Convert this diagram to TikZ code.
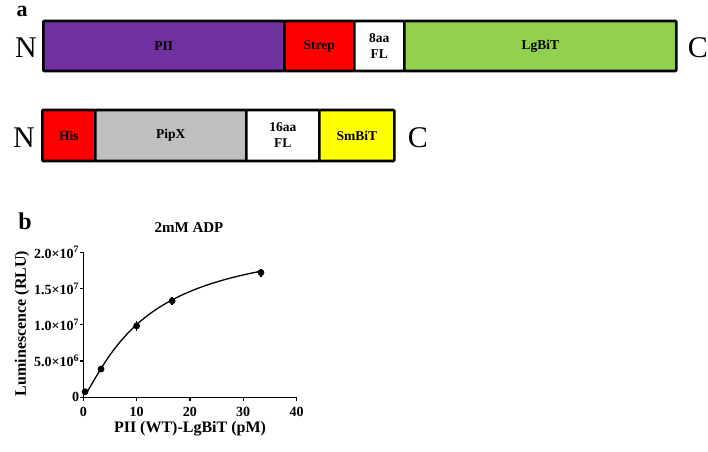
\documentclass[tikz,border=0pt]{standalone}
\usepackage{fontspec}
\setmainfont{Liberation Serif}
\usetikzlibrary{positioning}
\definecolor{piipurple}{RGB}{112,48,160}
\definecolor{tagred}{RGB}{255,0,0}
\definecolor{lgbitgreen}{RGB}{146,208,80}
\definecolor{pipxgray}{RGB}{191,191,191}
\definecolor{smbityellow}{RGB}{255,255,0}
\newcommand{\boxfont}{\fontsize{13.5}{16}\selectfont\bfseries}
\newcommand{\termfont}{\fontsize{30}{30}\selectfont}
\newcommand{\panelfont}{\fontsize{24}{24}\selectfont\bfseries}
\newcommand{\tickfont}{\fontsize{14}{14}\selectfont\bfseries}
\newcommand{\labelfont}{\fontsize{16}{16}\selectfont\bfseries}
\newcommand{\widthpii}{241pt}
\newcommand{\widthstrep}{70pt}
\newcommand{\widtheight}{50pt}
\newcommand{\widthlgbit}{272pt}
\newcommand{\widthhis}{53pt}
\newcommand{\widthpipx}{151pt}
\newcommand{\widthsixteen}{73pt}
\newcommand{\widthsmbit}{75pt}
\tikzset{
    seg/.style={anchor=west, draw, line width=2.6pt, rounded corners=1pt,
        inner sep=0pt, align=center, font=\boxfont},
    toprow/.style={seg, minimum height=50pt},
    botrow/.style={seg, minimum height=51pt},
    term/.style={inner sep=0pt, font=\termfont},
    panel/.style={inner sep=0pt, font=\panelfont},
    datapt/.style={fill=black},
    errbar/.style={line width=1.6pt}
}

\begin{document}
\begin{tikzpicture}[x=1pt, y=-1pt]
    \useasboundingbox (0,0) rectangle (708,451);

    % panel a: construct maps
    \node[panel, anchor=base, font=\fontsize{22}{22}\selectfont\bfseries] (labela) at (22,16) {a};
    \path (42,46)
        node[toprow, fill=piipurple, minimum width=\widthpii] (pii) {PII}
        to ++(0:\widthpii) node[toprow, fill=tagred, minimum width=\widthstrep] (strep) {Strep}
        to ++(0:\widthstrep) node[toprow, fill=white, minimum width=\widtheight] (fleight) {8aa\\FL}
        to ++(0:\widtheight) node[toprow, fill=lgbitgreen, minimum width=\widthlgbit] (lgbit) {LgBiT};
    \node[term, left=5pt of pii, yshift=-2pt] (ntop) {N};
    \node[term, right=10pt of lgbit, yshift=-2pt] (ctop) {C};

    \path (41,135.5)
        node[botrow, fill=tagred, minimum width=\widthhis] (his) {His}
        to ++(0:\widthhis) node[botrow, fill=pipxgray, minimum width=\widthpipx] (pipx) {PipX}
        to ++(0:\widthpipx) node[botrow, fill=white, minimum width=\widthsixteen] (flsixteen) {16aa\\FL}
        to ++(0:\widthsixteen) node[botrow, fill=smbityellow, minimum width=\widthsmbit] (smbit) {SmBiT};
    \node[term, left=6pt of his, yshift=-2pt] (nbot) {N};
    \node[term, right=12pt of smbit, yshift=-2pt] (cbot) {C};

    % panel b: binding curve
    \node[panel] (labelb) at (25,221) {b};
    \node[inner sep=0pt, font=\fontsize{15}{15}\selectfont\bfseries] (title) at (189,228) {2mM ADP};
    \begin{scope}[shift={(83.3,397.3)}, x=5.33pt, y=7.25pt]
        \draw[line width=1.4pt] (0,20) -- (0,0) -- (40,0);
        \foreach \t/\lab in {0/0, 5/5.0×10\textsuperscript{6}, 10/1.0×10\textsuperscript{7},
                             15/1.5×10\textsuperscript{7}, 20/2.0×10\textsuperscript{7}} {
            \draw[line width=1.2pt] (0,\t) -- ++(-3pt,0);
            \node[anchor=east, inner sep=0pt, font=\tickfont] at ([xshift=-4pt]0,\t) {\lab};
        }
        \foreach \t in {0,10,...,40} {
            \draw[line width=1.2pt] (\t,0) -- ++(0,-4pt);
            \node[anchor=north, inner sep=0pt, font=\tickfont] at ([yshift=-10pt]\t,0) {\t};
        }
        % Hill fit
        \draw[line width=1.3pt] plot[domain=0.35:33.33, samples=80, smooth]
            (\x, {22.5*pow(\x,1.2)/(19.73+pow(\x,1.2))});
        \foreach \cx/\cy/\ce in {0.33/0.77/0.4, 3.33/3.9/0.4, 10/9.85/0.65, 16.67/13.3/0.55, 33.33/17.2/0.55} {
            \draw[errbar] (\cx,\cy-\ce) -- (\cx,\cy+\ce);
            \fill[datapt] (\cx,\cy) circle[radius=3.4pt];
        }
    \end{scope}
    \node[inner sep=0pt, font=\labelfont, rotate=90] (ylab) at (22,323.5) {Luminescence (RLU)};
    \node[inner sep=0pt, font=\labelfont] (xlab) at (190,429) {PII (WT)-LgBiT (pM)};
\end{tikzpicture}
\end{document}
